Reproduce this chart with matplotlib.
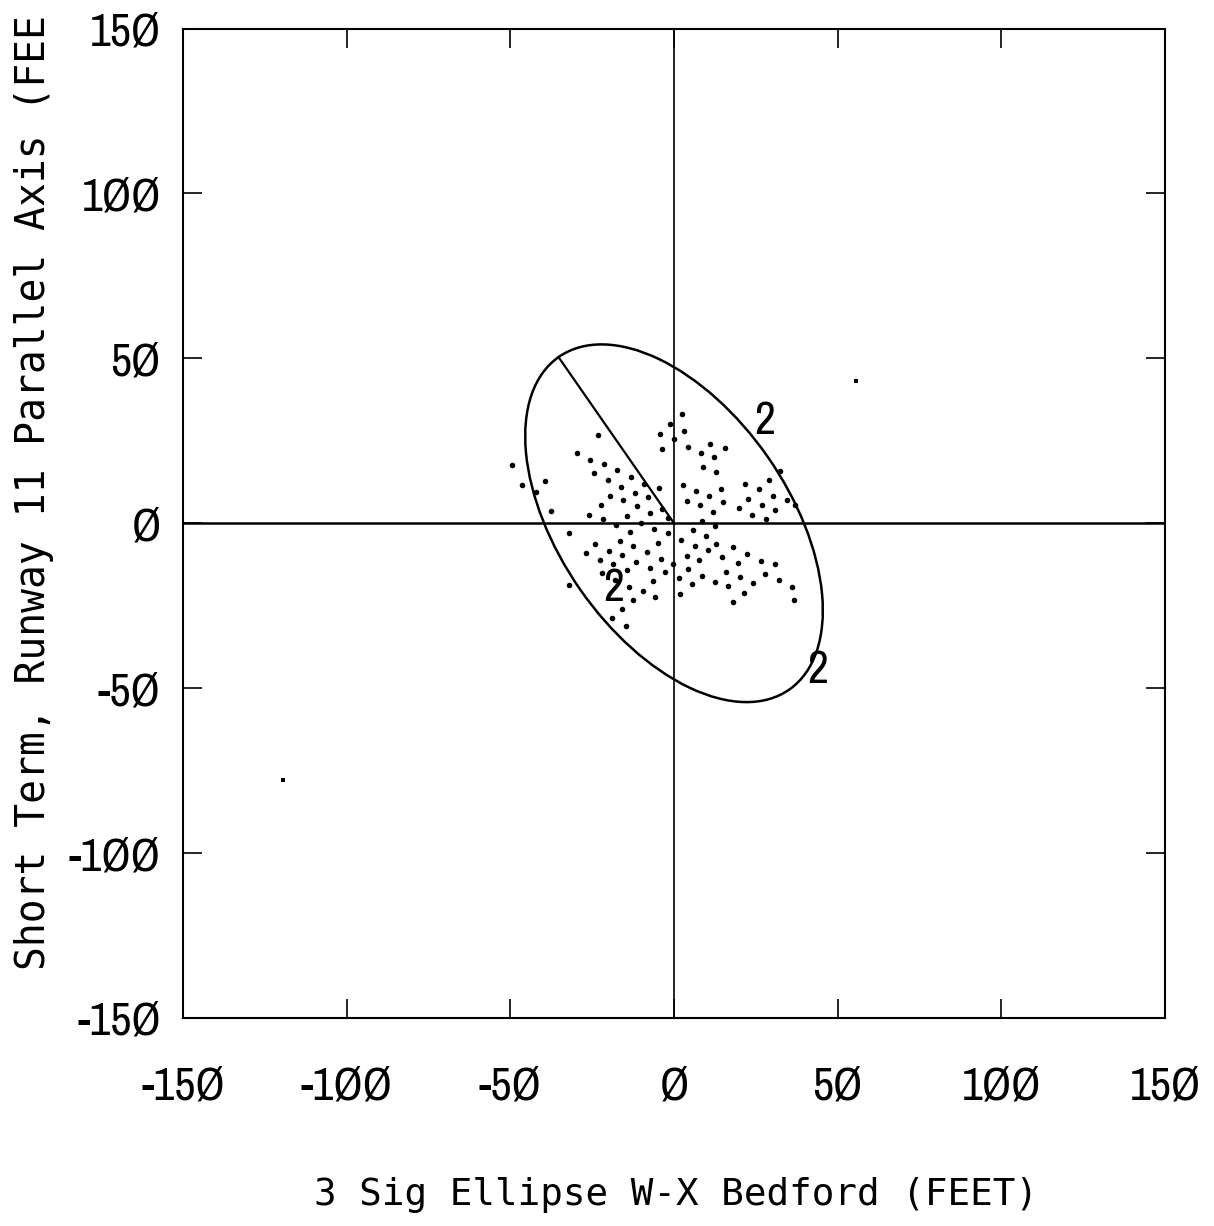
import matplotlib
matplotlib.use("Agg")
import matplotlib.pyplot as plt
import numpy as np
from matplotlib.patches import Ellipse

# scatter points (feet)
pts_x = [
    2.3, -1.2, -4.2, 3.0, 0.0, -3.6, 4.2, 11.1, 8.1, 12.3, 15.7, 8.8, 12.8,
    2.6, 6.7, 10.8, 14.2, 21.8, 26.1, 29.1, 32.3, 30.1, 22.5, 26.8, 3.9, 7.8,
    14.9, 19.7, 23.7, 28.0, 12.0, 31.0, 34.4, 37.0, 8.6, 12.6,
    -23.2, -29.6, -25.6, -21.5, -24.3, -17.4, -13.2, -20.3, -16.1, -9.1, -4.5,
    -19.6, -15.5, -12.0, -7.9, -22.4, -11.3, -7.2, -26.0, -21.8, -14.3, -39.3,
    -46.3, -42.2, -37.6, -49.5, -3.7, -1.7, -17.8, -10.0,
    -32.1, -24.0, -26.8, -19.9, -16.4, -13.5, -12.4, -15.8, -22.7, -18.6, -8.1,
    -4.8, -6.1, -1.7, -11.6, -7.4, -4.1, -22.0, -14.5, -18.0, -2.9, -6.4, -13.7,
    -9.6, -12.6, -5.7, -32.1, -15.9, -19.0, -14.7,
    -0.2, 1.4, 4.3, 5.5, 1.9, 2.1, 3.9, 6.4, 5.7, 9.8, 10.5, 7.7, 8.4, 12.8,
    14.7, 18.1, 15.9, 12.4, 19.5, 22.3, 20.1, 16.6, 17.9, 21.3, 24.1, 26.6,
    27.8, 30.7, 32.0, 36.0, 36.8,
]
pts_y = [
    33.0, 30.0, 27.2, 28.0, 25.4, 22.4, 23.2, 24.1, 21.4, 20.0, 22.7, 17.2, 15.5,
    11.5, 9.7, 8.4, 10.5, 12.0, 10.3, 13.1, 15.9, 8.3, 7.4, 5.5, 6.9, 5.6,
    6.5, 4.5, 2.6, 1.3, 3.5, 3.9, 7.1, 5.4, 0.7, -0.8,
    26.7, 21.2, 19.1, 17.9, 15.1, 16.0, 13.9, 13.0, 11.1, 12.0, 10.7,
    8.3, 7.2, 9.2, 7.9, 5.5, 5.1, 3.1, 2.5, 1.4, 2.1, 12.7,
    11.6, 9.6, 3.6, 17.7, 4.4, 1.7, -0.5, 0.2,
    -3.0, -6.3, -9.1, -8.3, -5.5, -2.5, -6.8, -9.5, -11.1, -12.3, -8.7,
    -5.9, -1.7, -2.9, -11.6, -13.5, -10.7, -15.2, -14.3, -17.2, -14.7, -17.5, -19.2,
    -20.4, -23.2, -22.4, -18.8, -26.1, -28.8, -31.2,
    -12.5, -16.7, -13.8, -18.5, -21.5, -5.1, -9.8, -6.8, -1.9, -3.9, -8.1, -11.0, -15.9, -6.3,
    -10.2, -7.2, -14.9, -17.7, -12.1, -9.2, -16.3, -19.0, -23.8, -21.0, -18.1, -11.3,
    -15.4, -12.4, -17.3, -19.3, -23.3,
]
stray_x = [55.6, -119.5]
stray_y = [43.0, -78.0]

# 3 sigma ellipse
semi_major = 61.5
semi_minor = 35.0
angle_deg = 125.0

label_text = ["2", "2", "2"]
label_x = [27.7, -18.3, 43.9]
label_y = [30.9, -19.7, -44.5]

ticks = [-150, -100, -50, 0, 50, 100, 150]
tick_labels = [str(t).replace("0", "\u00d8") for t in ticks]

# the y label is cut at "(FEE" on the original sheet
xlabel = "3 Sig Ellipse W-X Bedford (FEET)"
ylabel = "Short Term, Runway 11 Parallel Axis (FEE"

NARROW = ["Archivo Narrow", "Asap Condensed", "DejaVu Sans"]
MONO = ["DejaVu Sans Mono", "DejaVu Sans"]
plt.rcParams["font.family"] = NARROW

fig = plt.figure(figsize=(12.14, 12.26), dpi=100)
ax = fig.add_axes([0.1507, 0.1697, 0.809, 0.807])
ax.set_xlim(-150, 150)
ax.set_ylim(-150, 150)

ax.axhline(0, color="black", lw=1.8)
ax.axvline(0, color="black", lw=1.2)

ell = Ellipse((0, 0), 2 * semi_major, 2 * semi_minor, angle=angle_deg,
              fill=False, edgecolor="black", lw=1.8)
ax.add_patch(ell)
th = np.deg2rad(angle_deg)
ax.plot([0, semi_major * np.cos(th)], [0, semi_major * np.sin(th)],
        color="black", lw=1.6)

ax.plot(pts_x, pts_y, "o", color="black", ms=4.0, mew=0)
ax.plot(stray_x, stray_y, "s", color="black", ms=2.4, mew=0)

for t, x, y in zip(label_text, label_x, label_y):
    ax.text(x, y, t, fontsize=33, ha="center", va="center", family=NARROW)

ax.set_xticks(ticks)
ax.set_yticks(ticks)
ax.set_xticklabels(tick_labels)
ax.set_yticklabels(tick_labels)
ax.tick_params(direction="in", length=14, width=1.2, labelsize=33,
               top=True, right=True)
ax.tick_params(axis="x", pad=34)
ax.tick_params(axis="y", pad=16)
for s in ax.spines.values():
    s.set_linewidth(1.5)

fig.text(0.557, 0.025, xlabel, fontsize=27,
         ha="center", va="center", family=MONO)
fig.text(0.028, 0.209, ylabel, fontsize=28.5, rotation=90,
         ha="center", va="bottom", family=MONO)

fig.savefig("out.png", dpi=100)
